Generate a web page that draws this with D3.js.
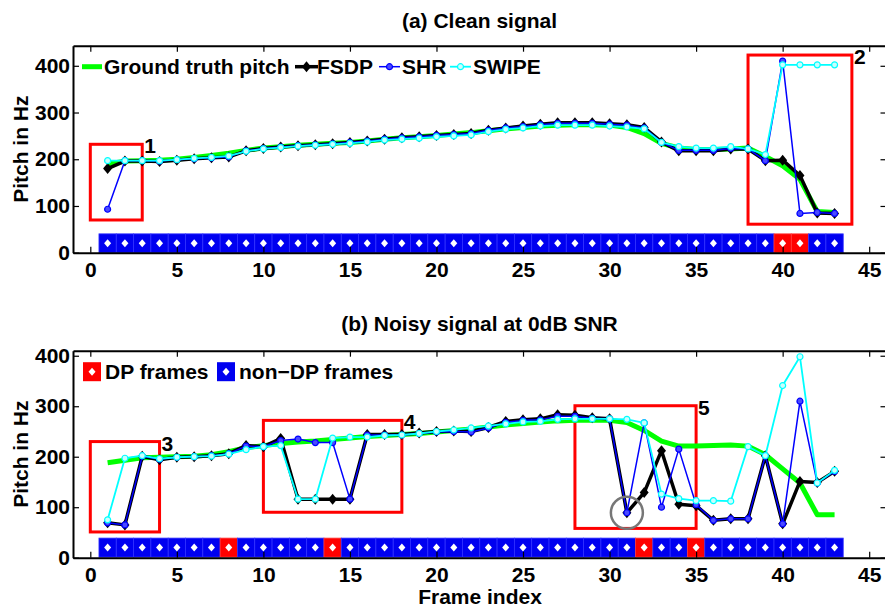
<!DOCTYPE html>
<html>
<head>
<meta charset="utf-8">
<script src="https://cdn.jsdelivr.net/npm/d3@7"></script>
<style>
body { margin: 0; background: #fff; }
svg text { font-family: 'Liberation Sans', Arial, Helvetica, sans-serif; font-weight: bold; fill: #000; }
</style>
</head>
<body>
<script>
// frame indices (x categories)
var frames = [1, 2, 3, 4, 5, 6, 7, 8, 9, 10, 11, 12, 13, 14, 15, 16, 17, 18, 19, 20, 21,
  22, 23, 24, 25, 26, 27, 28, 29, 30, 31, 32, 33, 34, 35, 36, 37, 38, 39, 40, 41, 42, 43];
var xTicks = [0, 5, 10, 15, 20, 25, 30, 35, 40, 45];
var yTicks = [0, 100, 200, 300, 400];

// (a) clean signal
var gtA = [190, 196, 197, 198, 200, 204, 208, 213, 219, 224, 227, 230, 232, 234, 236, 239, 243, 246,
  248, 251, 254, 257, 261, 265, 268, 271, 273, 274, 274, 273, 268, 255, 234, 224, 221, 221, 222, 224,
  206, 186, 157, 88, 86];
var fsdpA = [180, 196, 196, 195, 198, 201, 203, 205, 218, 223, 226, 229, 231, 233, 236, 239, 243, 246,
  248, 251, 253, 255, 262, 267, 271, 275, 278, 278, 278, 276, 274, 268, 237, 218, 218, 218, 222, 222,
  197, 198, 165, 85, 84];
var shrA = [93, 197, 197, 196, 199, 201, 203, 205, 218, 223, 226, 229, 231, 233, 236, 239, 243, 246,
  248, 251, 253, 255, 262, 267, 270, 274, 277, 277, 277, 275, 273, 267, 236, 219, 219, 219, 223, 222,
  197, 410, 84, 86, 84];
var swipeA = [197, 197, 197, 197, 199, 202, 204, 207, 217, 222, 225, 228, 230, 232, 234, 237, 241, 243,
  245, 248, 250, 252, 259, 264, 267, 271, 273, 273, 273, 271, 269, 265, 236, 227, 224, 224, 227, 222,
  210, 402, 402, 402, 402];
var dpFramesA = [40, 41];

// (b) noisy signal at 0dB SNR
var gtB = [188, 193, 198, 199, 200, 201, 204, 210, 218, 222, 226, 229, 231, 234, 237, 240, 242, 244,
  246, 249, 252, 255, 259, 263, 266, 269, 271, 272, 272, 272, 268, 252, 231, 221, 221, 222, 223, 221,
  204, 176, 148, 85, 85];
var fsdpB = [69, 65, 201, 194, 199, 200, 202, 206, 222, 220, 236, 116, 116, 116, 116, 244, 244, 244,
  247, 250, 251, 250, 258, 270, 273, 275, 283, 282, 277, 275, 89, 129, 212, 106, 103, 74, 77, 77,
  202, 67, 151, 149, 171];
var shrB = [69, 65, 201, 195, 199, 200, 202, 206, 221, 220, 232, 235, 228, 228, 116, 243, 243, 243,
  246, 249, 250, 249, 257, 268, 272, 273, 280, 280, 276, 275, 89, 267, 100, 215, 105, 74, 77, 77,
  202, 67, 310, 148, 171];
var swipeB = [75, 197, 202, 196, 199, 200, 201, 205, 214, 220, 222, 116, 116, 237, 239, 239, 242, 243,
  246, 250, 253, 257, 261, 265, 269, 270, 274, 275, 275, 275, 274, 267, 126, 117, 113, 113, 112, 220,
  202, 341, 398, 148, 173];
var dpFramesB = [8, 14, 32, 35];

// highlighted regions [x0, x1, y0, y1] and their numbers
var boxesA = [[0, 3, 70, 232], [38, 44, 61, 423]];
var boxLabelsA = ['1', '2'];
var boxesB = [[0, 4, 51, 230], [10, 18, 90, 272], [28, 35, 58, 301]];
var boxLabelsB = ['3', '4', '5'];
var circledPoint = [31, 89];
var barLevel = 20;

var width = 885;
var height = 607;

var svg = d3.select('body').append('svg')
  .attr('width', width)
  .attr('height', height);

var x = d3.scaleLinear().domain([-1, 46]).range([73, 886.5]);

var seriesStyle = [
  { name: 'Ground truth pitch', color: '#00ff00', width: 5, marker: null },
  { name: 'FSDP', color: '#000000', width: 3.5, marker: 'diamond' },
  { name: 'SHR', color: '#0000ff', width: 1.5, marker: 'circle' },
  { name: 'SWIPE', color: '#00ffff', width: 1.8, marker: 'circle' }
];

// square diamond like the plotting tool's 'd' marker
var diamond = function(w, h) {
  return 'M0,' + (-h) + 'L' + w + ',0L0,' + h + 'L' + (-w) + ',0Z';
};

var drawMarker = function(sel, s) {
  if (s.marker === 'diamond') {
    sel.append('path')
      .attr('d', diamond(4.5, 5.5))
      .attr('fill', s.color);
  } else if (s.marker === 'circle') {
    sel.append('circle')
      .attr('r', 3)
      .attr('fill', s.name === 'SHR' ? '#4a4aff' : '#c8ffff')
      .attr('stroke', s.color)
      .attr('stroke-width', 1.2);
  }
};

var drawPanel = function(p) {
  var y = d3.scaleLinear().domain([0, p.yMax]).range([p.bottom, p.top]);
  var g = svg.append('g');

  g.append('text')
    .attr('x', 479.5).attr('y', p.titleY)
    .attr('text-anchor', 'middle')
    .style('font-size', '21px')
    .text(p.title);

  // frame type bar
  var cells = g.selectAll('.cell').data(frames).enter().append('g')
    .attr('transform', function(f) { return 'translate(' + x(f) + ',' + y(barLevel) + ')'; });
  cells.append('rect')
    .attr('x', function(f) { return x(f - 0.5) - x(f); })
    .attr('width', function(f) { return x(f + 0.5) - x(f - 0.5); })
    .attr('y', -9.5).attr('height', 19)
    .attr('fill', function(f) { return p.dp.indexOf(f) >= 0 ? '#ff0000' : '#0000f0'; })
    .attr('stroke', function(f) { return p.dp.indexOf(f) >= 0 ? '#ff3a3a' : '#3030ff'; })
    .attr('stroke-width', 0.8);
  cells.append('path')
    .attr('d', diamond(3.5, 4))
    .attr('fill', '#fff');

  // boxes
  p.boxes.forEach(function(b, i) {
    g.append('rect')
      .attr('x', x(b[0])).attr('width', x(b[1]) - x(b[0]))
      .attr('y', y(b[3])).attr('height', y(b[2]) - y(b[3]))
      .attr('fill', 'none')
      .attr('stroke', '#ff0000')
      .attr('stroke-width', 3);
    g.append('text')
      .attr('x', x(b[1]) + 2).attr('y', y(b[3]) + 9)
      .style('font-size', '21px')
      .text(p.boxLabels[i]);
  });

  // series
  var line = d3.line()
    .x(function(d, i) { return x(frames[i]); })
    .y(function(d) { return y(d); });
  p.series.forEach(function(vals, k) {
    var s = seriesStyle[k];
    g.append('path')
      .datum(vals)
      .attr('d', line)
      .attr('fill', 'none')
      .attr('stroke', s.color)
      .attr('stroke-width', s.width)
      .attr('stroke-linejoin', 'round');
    if (s.marker) {
      var m = g.selectAll('.m' + k).data(vals).enter().append('g')
        .attr('transform', function(d, i) { return 'translate(' + x(frames[i]) + ',' + y(d) + ')'; });
      drawMarker(m, s);
    }
  });

  if (p.circle) {
    g.append('circle')
      .attr('cx', x(p.circle[0])).attr('cy', y(p.circle[1]))
      .attr('r', 16)
      .attr('fill', 'none')
      .attr('stroke', '#777')
      .attr('stroke-width', 2.5);
  }

  // axes
  var styleAxis = function(a) {
    a.select('.domain').attr('stroke', '#000').attr('stroke-width', 2);
    a.selectAll('.tick line').attr('stroke', '#000').attr('stroke-width', 1.2);
    a.selectAll('text').style('font-size', '21px').style('font-family', null).attr('fill', '#000');
  };
  g.append('g').attr('transform', 'translate(0,' + p.bottom + ')')
    .call(d3.axisBottom(x).tickValues(xTicks).tickSize(-6).tickSizeOuter(0).tickPadding(9))
    .call(styleAxis);
  g.append('g').attr('transform', 'translate(0,' + p.top + ')')
    .call(d3.axisTop(x).tickValues(xTicks).tickSize(-6).tickSizeOuter(0).tickFormat(''))
    .call(styleAxis);
  g.append('g').attr('transform', 'translate(73,0)')
    .call(d3.axisLeft(y).tickValues(yTicks).tickSize(-6).tickSizeOuter(0).tickPadding(3))
    .call(styleAxis);
  g.append('g').attr('transform', 'translate(886.5,0)')
    .call(d3.axisRight(y).tickValues(yTicks).tickSize(-6).tickSizeOuter(0).tickFormat(''))
    .call(styleAxis);

  g.append('text')
    .attr('transform', 'translate(28,' + (p.top + p.bottom) / 2 + ') rotate(-90)')
    .attr('text-anchor', 'middle')
    .style('font-size', '21px')
    .text('Pitch in Hz');

  return y;
};

drawPanel({
  title: '(a) Clean signal', titleY: 28,
  top: 45.7, bottom: 252.7, yMax: 443,
  series: [gtA, fsdpA, shrA, swipeA],
  dp: dpFramesA, boxes: boxesA, boxLabels: boxLabelsA, circle: null
});
drawPanel({
  title: '(b) Noisy signal at 0dB SNR', titleY: 331,
  top: 350.7, bottom: 557.7, yMax: 410,
  series: [gtB, fsdpB, shrB, swipeB],
  dp: dpFramesB, boxes: boxesB, boxLabels: boxLabelsB, circle: circledPoint
});

svg.append('text')
  .attr('x', 480).attr('y', 604)
  .attr('text-anchor', 'middle')
  .style('font-size', '21px')
  .text('Frame index');

// legend (a)
var legA = svg.append('g').attr('transform', 'translate(0,66.7)');
var legX = [[82, 102, 104], [295, 318, 317], [379, 400, 402], [450, 471, 473]];
seriesStyle.forEach(function(s, k) {
  var lx = legX[k];
  legA.append('line')
    .attr('x1', lx[0]).attr('x2', lx[1])
    .attr('stroke', s.color)
    .attr('stroke-width', s.width);
  if (s.marker) {
    drawMarker(legA.append('g').attr('transform', 'translate(' + (lx[0] + lx[1]) / 2 + ',0)'), s);
  }
  legA.append('text')
    .attr('x', lx[2]).attr('dy', '0.36em')
    .style('font-size', '21px')
    .text(s.name);
});

// legend (b)
var legB = svg.append('g').attr('transform', 'translate(0,371.7)');
var frameKinds = [['DP frames', '#ff0000', 83, 105], ['non\u2212DP frames', '#0000f0', 217, 239]];
frameKinds.forEach(function(k) {
  legB.append('rect')
    .attr('x', k[2]).attr('y', -9.5)
    .attr('width', 18).attr('height', 19)
    .attr('fill', k[1]);
  legB.append('path')
    .attr('transform', 'translate(' + (k[2] + 9) + ',0)')
    .attr('d', diamond(3.5, 4))
    .attr('fill', '#fff');
  legB.append('text')
    .attr('x', k[3]).attr('dy', '0.36em')
    .style('font-size', '21px')
    .text(k[0]);
});
</script>
</body>
</html>
